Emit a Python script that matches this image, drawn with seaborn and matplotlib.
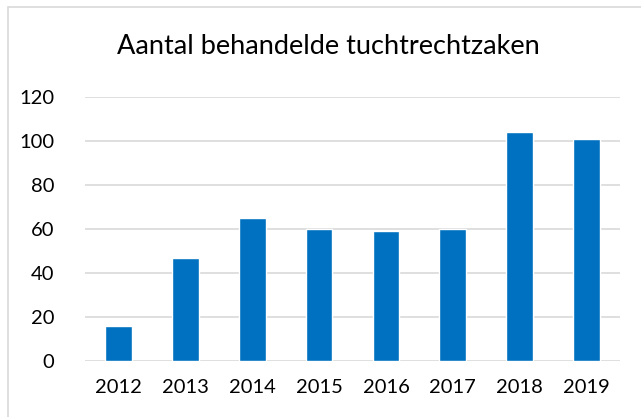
import matplotlib
matplotlib.use("Agg")
import matplotlib.pyplot as plt
import seaborn as sns
import pandas as pd
from matplotlib.patches import Rectangle

years = ["2012", "2013", "2014", "2015", "2016", "2017", "2018", "2019"]
zaken = [16, 47, 65, 60, 59, 60, 104, 101]

sns.set_style("white")
plt.rcParams["font.family"] = ["Lato", "DejaVu Sans"]

df = pd.DataFrame({"jaar": years, "aantal": zaken})

fig = plt.figure(figsize=(6.41, 4.17), dpi=100)
ax = fig.add_axes([85 / 641, 1 - 361 / 417, 535 / 641, 264 / 417])

sns.barplot(data=df, x="jaar", y="aantal", color="#0070C0", saturation=1,
            width=0.4, ax=ax, zorder=3)

ax.set_ylim(0, 120)
ax.set_yticks(range(0, 121, 20))
ax.set_xlim(-0.5, len(years) - 0.5)
ax.grid(axis="y", color="#d9d9d9", linewidth=1.2, zorder=0)
ax.set_axisbelow(True)
for s in ax.spines.values():
    s.set_visible(False)
ax.tick_params(axis="both", length=0, labelsize=14.5, labelcolor="#000000")
ax.tick_params(axis="y", pad=22)
ax.tick_params(axis="x", pad=13)
ax.set_xlabel("")
ax.set_ylabel("")

fig.text(0.513, 1 - 47 / 417, "Aantal behandelde tuchtrechtzaken",
         ha="center", va="center", fontsize=19.5, color="#000000")

# chart border (right/bottom edges fall outside the image)
fig.patches.append(Rectangle((7.5 / 641, -0.1), 1.2, 1.1 - 7.5 / 417,
                             transform=fig.transFigure, fill=False,
                             edgecolor="#d9d9d9", linewidth=1.2))

fig.savefig("out.png", dpi=100)
